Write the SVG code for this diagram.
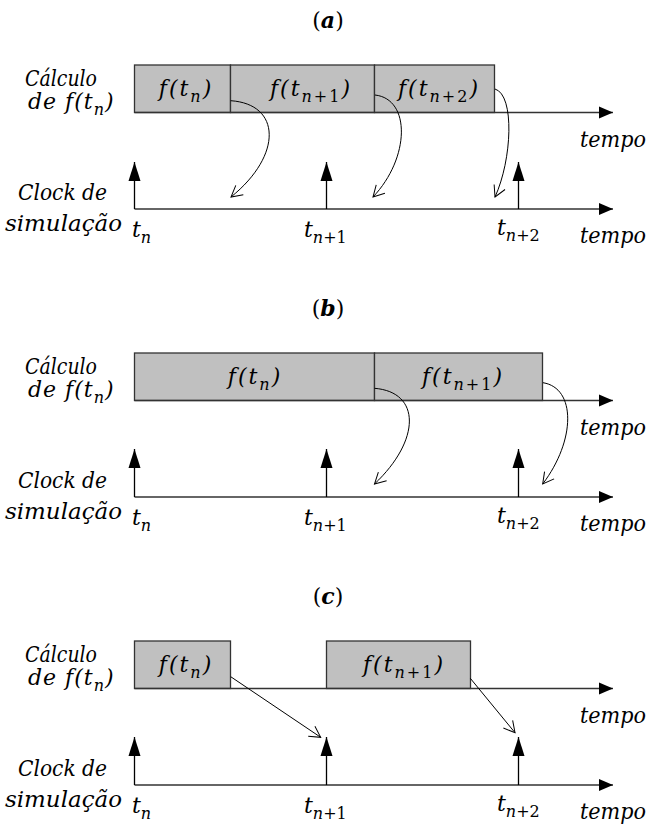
<svg xmlns="http://www.w3.org/2000/svg" width="650" height="825" viewBox="0 0 650 825">
<style>
  text { font-family: "DejaVu Serif", "Liberation Serif", serif; font-style: italic; font-size: 22px; fill: #000; }
  .title { font-style: normal; font-size: 22px; }
  .title .v { font-weight: bold; font-style: italic; }
  .m { letter-spacing: 2px; }
  .sub { font-size: 16px; }
  .up { font-style: normal; font-size: 16px; }
  .box { fill: #c0c0c0; stroke: #333; stroke-width: 1.3; }
  .axis { stroke: #333; stroke-width: 1.3; fill: none; }
  .tick { stroke: #000; stroke-width: 1.3; fill: none; }
  .conn { stroke: #000; stroke-width: 1; fill: none; }
</style>
<defs>
  <marker id="axisHead" markerUnits="userSpaceOnUse" markerWidth="16" markerHeight="14" refX="14" refY="6" orient="auto" overflow="visible">
    <path d="M0,0 L14,6 L0,12 Z" fill="#000"/>
  </marker>
  <marker id="tickHead" markerUnits="userSpaceOnUse" markerWidth="20" markerHeight="14" refX="19" refY="6" orient="auto" overflow="visible">
    <path d="M0,0 L19,6 L0,12 Z" fill="#000"/>
  </marker>
  <marker id="openHead" markerUnits="userSpaceOnUse" markerWidth="14" markerHeight="14" refX="0" refY="0" orient="auto" overflow="visible">
    <path d="M-11,-6 L0,0 L-11,6" fill="none" stroke="#000" stroke-width="1"/>
  </marker>
</defs>

<!-- ===================== Panel (a) ===================== -->
<g id="panel-a">
  <text class="title" x="328" y="28" text-anchor="middle">(<tspan class="v">a</tspan>)</text>
  <g id="a-labels">
    <text x="25" y="86" textLength="72" lengthAdjust="spacingAndGlyphs">Cálculo</text>
    <text class="m" x="28" y="109" style="letter-spacing:1px">de f(t<tspan class="sub" dy="6">n</tspan><tspan dy="-6">)</tspan></text>
    <text x="18" y="200" textLength="89" lengthAdjust="spacingAndGlyphs">Clock de</text>
    <text x="5" y="231" textLength="117" lengthAdjust="spacingAndGlyphs">simulação</text>
    <text x="580" y="147" textLength="66" lengthAdjust="spacingAndGlyphs">tempo</text>
    <text x="580" y="243" textLength="66" lengthAdjust="spacingAndGlyphs">tempo</text>
    <text x="132" y="237">t<tspan class="sub" dy="6">n</tspan></text>
    <text x="304" y="237">t<tspan class="sub" dy="6">n</tspan><tspan class="up">+1</tspan></text>
    <text x="497" y="235">t<tspan class="sub" dy="6">n</tspan><tspan class="up">+2</tspan></text>
  </g>
  <g id="a-box1"><rect class="box" x="134.5" y="65" width="96" height="47.5"/>
    <text class="m" x="186" y="96" text-anchor="middle">f(t<tspan class="sub" dy="6">n</tspan><tspan dy="-6">)</tspan></text></g>
  <g id="a-box2"><rect class="box" x="230.5" y="65" width="144" height="47.5"/>
    <text class="m" x="311" y="96" text-anchor="middle">f(t<tspan class="sub" dy="6">n</tspan><tspan class="up">+1</tspan><tspan dy="-6">)</tspan></text></g>
  <g id="a-box3"><rect class="box" x="374.5" y="65" width="120" height="47.5"/>
    <text class="m" x="439" y="96" text-anchor="middle">f(t<tspan class="sub" dy="6">n</tspan><tspan class="up">+2</tspan><tspan dy="-6">)</tspan></text></g>
</g>

<!-- ===================== Panel (b) ===================== -->
<g id="panel-b">
  <text class="title" x="328" y="316" text-anchor="middle">(<tspan class="v">b</tspan>)</text>
  <g id="b-labels">
    <text x="25" y="374" textLength="72" lengthAdjust="spacingAndGlyphs">Cálculo</text>
    <text class="m" x="28" y="397" style="letter-spacing:1px">de f(t<tspan class="sub" dy="6">n</tspan><tspan dy="-6">)</tspan></text>
    <text x="18" y="488" textLength="89" lengthAdjust="spacingAndGlyphs">Clock de</text>
    <text x="5" y="519" textLength="117" lengthAdjust="spacingAndGlyphs">simulação</text>
    <text x="580" y="435" textLength="66" lengthAdjust="spacingAndGlyphs">tempo</text>
    <text x="580" y="531" textLength="66" lengthAdjust="spacingAndGlyphs">tempo</text>
    <text x="132" y="525">t<tspan class="sub" dy="6">n</tspan></text>
    <text x="304" y="525">t<tspan class="sub" dy="6">n</tspan><tspan class="up">+1</tspan></text>
    <text x="497" y="523">t<tspan class="sub" dy="6">n</tspan><tspan class="up">+2</tspan></text>
  </g>
  <g id="b-box1"><rect class="box" x="134.5" y="353" width="240" height="47.5"/>
    <text class="m" x="255" y="384" text-anchor="middle">f(t<tspan class="sub" dy="6">n</tspan><tspan dy="-6">)</tspan></text></g>
  <g id="b-box2"><rect class="box" x="374.5" y="353" width="168" height="47.5"/>
    <text class="m" x="463" y="384" text-anchor="middle">f(t<tspan class="sub" dy="6">n</tspan><tspan class="up">+1</tspan><tspan dy="-6">)</tspan></text></g>
</g>

<!-- ===================== Panel (c) ===================== -->
<g id="panel-c">
  <text class="title" x="328" y="604" text-anchor="middle">(<tspan class="v">c</tspan>)</text>
  <g id="c-labels">
    <text x="25" y="662" textLength="72" lengthAdjust="spacingAndGlyphs">Cálculo</text>
    <text class="m" x="28" y="685" style="letter-spacing:1px">de f(t<tspan class="sub" dy="6">n</tspan><tspan dy="-6">)</tspan></text>
    <text x="18" y="776" textLength="89" lengthAdjust="spacingAndGlyphs">Clock de</text>
    <text x="5" y="807" textLength="117" lengthAdjust="spacingAndGlyphs">simulação</text>
    <text x="580" y="723" textLength="66" lengthAdjust="spacingAndGlyphs">tempo</text>
    <text x="580" y="819" textLength="66" lengthAdjust="spacingAndGlyphs">tempo</text>
    <text x="132" y="813">t<tspan class="sub" dy="6">n</tspan></text>
    <text x="304" y="813">t<tspan class="sub" dy="6">n</tspan><tspan class="up">+1</tspan></text>
    <text x="497" y="811">t<tspan class="sub" dy="6">n</tspan><tspan class="up">+2</tspan></text>
  </g>
  <g id="c-box1"><rect class="box" x="134.5" y="641" width="96" height="47.5"/>
    <text class="m" x="186" y="672" text-anchor="middle">f(t<tspan class="sub" dy="6">n</tspan><tspan dy="-6">)</tspan></text></g>
  <g id="c-box2"><rect class="box" x="326.5" y="641" width="144" height="47.5"/>
    <text class="m" x="404" y="672" text-anchor="middle">f(t<tspan class="sub" dy="6">n</tspan><tspan class="up">+1</tspan><tspan dy="-6">)</tspan></text></g>
</g>

<!-- ===================== Connectors ===================== -->
<g id="connectors">
  <!-- axes (a) -->
  <path class="axis" d="M134.5,112.5 H613" marker-end="url(#axisHead)"/>
  <path class="axis" d="M134.5,209 H613" marker-end="url(#axisHead)"/>
  <path class="tick" d="M134.5,209 V162" marker-end="url(#tickHead)"/>
  <path class="tick" d="M326.5,209 V162" marker-end="url(#tickHead)"/>
  <path class="tick" d="M518.5,209 V162" marker-end="url(#tickHead)"/>
  <path class="conn" d="M230.7,100.7 C281,104 283,155 231,197" marker-end="url(#openHead)"/>
  <path class="conn" d="M375,95 C411,99 410,158 373,197" marker-end="url(#openHead)"/>
  <path class="conn" d="M495,89 C515,95 512,160 495,197" marker-end="url(#openHead)"/>

  <!-- axes (b) -->
  <path class="axis" d="M134.5,400.5 H613" marker-end="url(#axisHead)"/>
  <path class="axis" d="M134.5,497 H613" marker-end="url(#axisHead)"/>
  <path class="tick" d="M134.5,497 V449" marker-end="url(#tickHead)"/>
  <path class="tick" d="M326.5,497 V449" marker-end="url(#tickHead)"/>
  <path class="tick" d="M518.5,497 V449" marker-end="url(#tickHead)"/>
  <path class="conn" d="M374.5,388.3 C421,392 421,440 374.5,484" marker-end="url(#openHead)"/>
  <path class="conn" d="M543,382.7 C576,388 576,440 542.7,484" marker-end="url(#openHead)"/>

  <!-- axes (c) -->
  <path class="axis" d="M134.5,688.5 H613" marker-end="url(#axisHead)"/>
  <path class="axis" d="M134.5,785 H613" marker-end="url(#axisHead)"/>
  <path class="tick" d="M134.5,785 V737" marker-end="url(#tickHead)"/>
  <path class="tick" d="M326.5,785 V737" marker-end="url(#tickHead)"/>
  <path class="tick" d="M518.5,785 V737" marker-end="url(#tickHead)"/>
  <path class="conn" d="M230.7,676.7 L320.7,737.3" marker-end="url(#openHead)"/>
  <path class="conn" d="M470.3,678.3 L515,732.7" marker-end="url(#openHead)"/>
</g>
</svg>
